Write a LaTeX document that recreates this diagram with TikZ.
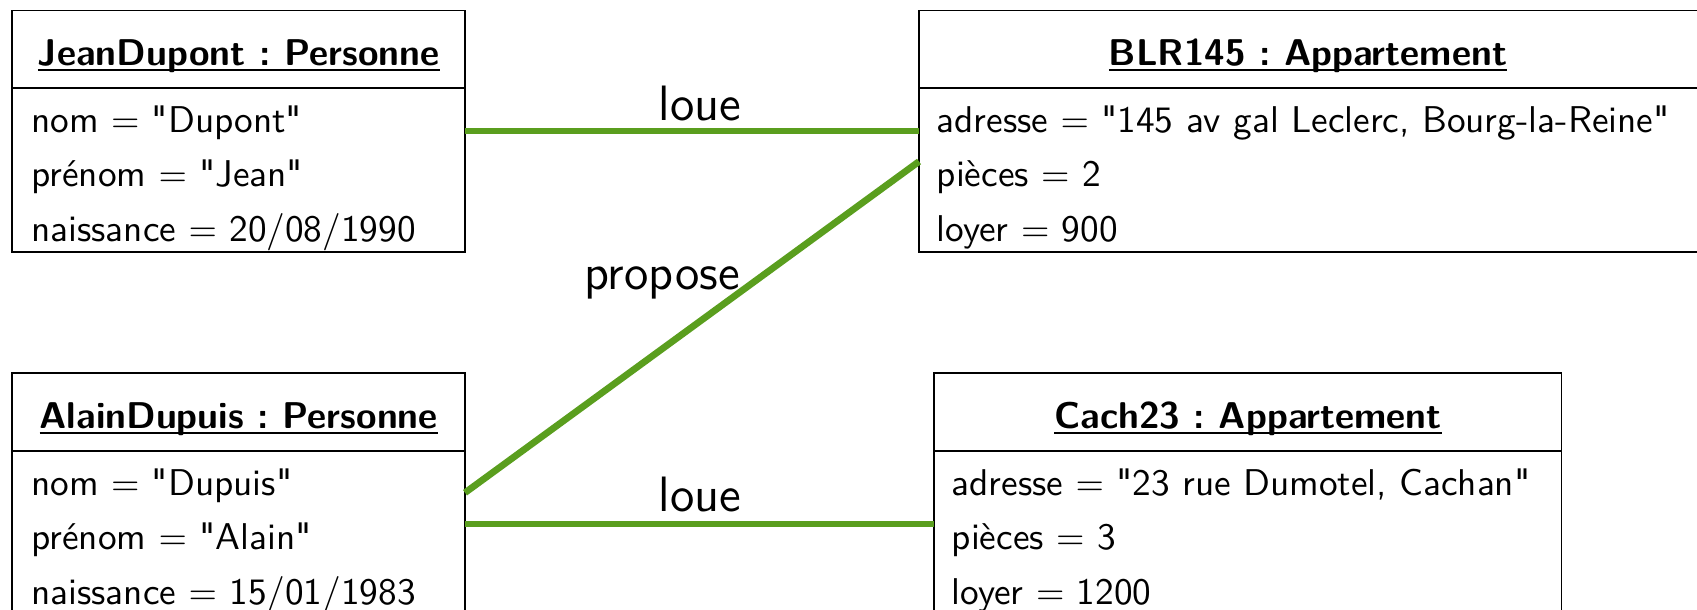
\documentclass[tikz,border=0pt]{standalone}
\usepackage{fontspec}
\setsansfont{Latin Modern Sans}[Ligatures=TeXOff]
\usetikzlibrary{fit}
\definecolor{assocgreen}{RGB}{90,158,30}
% underlined object name: a rule at a fixed depth below the baseline
\newcommand\objname[1]{\setbox0\hbox{#1}\rlap{\vrule height -1.1pt depth 1.55pt width \wd0}\box0}
\begin{document}
\begin{tikzpicture}[x=0.2737pt, y=-0.2737pt,
  objbox/.style={draw, line width=0.45pt, inner sep=0pt, outer sep=0pt},
  objtitle/.style={anchor=base, font=\sffamily\bfseries\fontsize{10.2}{12}\selectfont\frenchspacing, inner sep=0pt},
  attr/.style={anchor=base west, font=\sffamily\fontsize{10.2}{12}\selectfont, inner sep=0pt},
  assoc/.style={draw=assocgreen, line width=1.85pt},
  assoclabel/.style={anchor=base, font=\sffamily\fontsize{13.6}{16}\selectfont, inner sep=0pt}]
\useasboundingbox (0,0) rectangle (1697,609);
\clip (0,0) rectangle (1697,609);

% object boxes
\node[objbox, fit={(12.3,10.5) (465,252.3)}] (jd) {};
\node[objbox, fit={(919,10.5) (1699,252.3)}] (blr) {};
\node[objbox, fit={(12.3,373.3) (465,620)}] (ad) {};
\node[objbox, fit={(934.3,373.3) (1561.5,620)}] (cach) {};

% header separators
\draw[line width=0.45pt] (jd.west |- 0,88.3) -- (jd.east |- 0,88.3);
\draw[line width=0.45pt] (blr.west |- 0,88.3) -- (blr.east |- 0,88.3);
\draw[line width=0.45pt] (ad.west |- 0,451) -- (ad.east |- 0,451);
\draw[line width=0.45pt] (cach.west |- 0,451) -- (cach.east |- 0,451);

% titles
\node[objtitle] (jdtitle) at (238.7,65) {\objname{JeanDupont : Personne}};
\node[objtitle] (blrtitle) at (1308,65) {\objname{BLR145 : Appartement}};
\node[objtitle] (adtitle) at (238.7,428) {\objname{AlainDupuis : Personne}};
\node[objtitle] (cachtitle) at (1248,428) {\objname{Cach23 : Appartement}};

% attributes
\node[attr] (jd1) at (30.5,132) {nom $=$ "Dupont"};
\node[attr] (jd2) at (30.5,186) {prénom $=$ "Jean"};
\node[attr] (jd3) at (30.5,241) {naissance $=$ 20/08/1990};

\node[attr] (blr1) at (936,132) {adresse $=$ "145 av gal Leclerc, Bourg-la-Reine"};
\node[attr] (blr2) at (936,186) {pièces $=$ 2};
\node[attr] (blr3) at (936,241) {loyer $=$ 900};

\node[attr] (ad1) at (30.5,495.3) {nom $=$ "Dupuis"};
\node[attr] (ad2) at (30.5,549.3) {prénom $=$ "Alain"};
\node[attr] (ad3) at (30.5,604.3) {naissance $=$ 15/01/1983};

\node[attr] (cach1) at (951,495.3) {adresse $=$ "23 rue Dumotel, Cachan"};
\node[attr] (cach2) at (951,549.3) {pièces $=$ 3};
\node[attr] (cach3) at (951,604.3) {loyer $=$ 1200};

% associations
\draw[assoc] (jd.east |- 0,131) -- (blr.west |- 0,131);
\draw[assoc] (ad.east |- 0,492.7) -- (blr.west |- 0,161.5);
\draw[assoc] (ad.east |- 0,524) -- (cach.west |- 0,524);

\node[assoclabel] (loue1) at (700,120.7) {loue};
\node[assoclabel] (propose) at (662,289) {propose};
\node[assoclabel] (loue2) at (700,511) {loue};
\end{tikzpicture}
\end{document}
